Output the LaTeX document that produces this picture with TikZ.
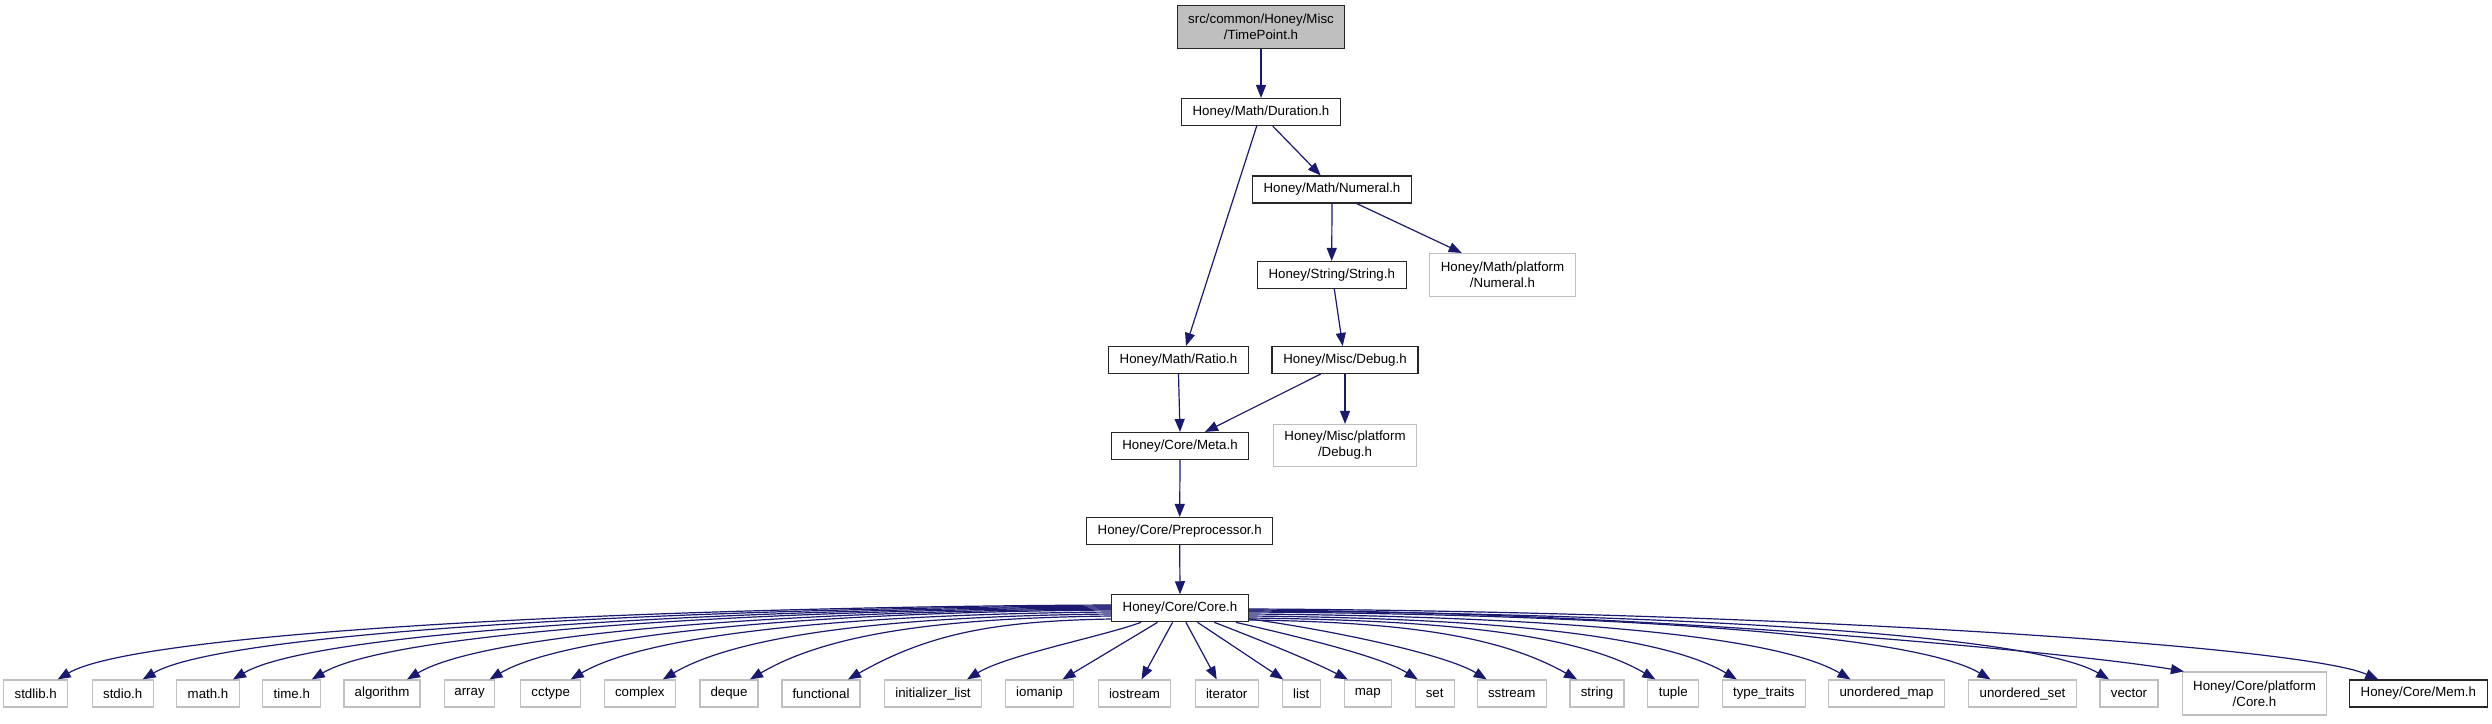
\documentclass[tikz,border=0pt]{standalone}
\usepackage{fontspec}
\setmainfont{Liberation Sans}
\usetikzlibrary{arrows.meta,calc}
\definecolor{edgec}{HTML}{191970}
\definecolor{grayb}{HTML}{BFBFBF}
\begin{document}
\begin{tikzpicture}[x=1pt,y=-1pt,
  font=\fontsize{13.3}{16}\selectfont,
  box/.style={draw=black!85, line width=1.1pt, inner sep=0pt, align=center, minimum height=27pt},
  ext/.style={draw=grayb, line width=1.2pt, inner sep=0pt, align=center, minimum height=27pt},
  edge/.style={draw=edgec, line width=1.2pt, -{Triangle[length=13pt,width=10pt]}}]
\useasboundingbox[fill=white] (0,0) rectangle (2492,723);

% upper nodes
\node[box, fill=grayb, minimum width=167pt, minimum height=43pt] (tp) at (1261,27) {src/common/Honey/Misc\\/TimePoint.h};
\node[box, minimum width=159pt] (dur) at (1261,112) {Honey/Math/Duration.h};
\node[box, minimum width=159pt] (num) at (1332,189.5) {Honey/Math/Numeral.h};
\node[box, minimum width=149pt] (str) at (1331.7,275) {Honey/String/String.h};
\node[ext, minimum width=146pt, minimum height=43pt] (mpn) at (1502.5,275) {Honey/Math/platform\\/Numeral.h};
\node[box, minimum width=140pt] (ratio) at (1178.5,360) {Honey/Math/Ratio.h};
\node[box, minimum width=146pt] (dbg) at (1345,360) {Honey/Misc/Debug.h};
\node[box, minimum width=137pt] (meta) at (1180,446) {Honey/Core/Meta.h};
\node[ext, minimum width=143pt, minimum height=42pt] (mpd) at (1345,445.5) {Honey/Misc/platform\\/Debug.h};
\node[box, minimum width=186pt] (pre) at (1179.7,531) {Honey/Core/Preprocessor.h};
\node[box, minimum width=137pt] (core) at (1180,608.3) {Honey/Core/Core.h};

% bottom row
\node[ext, minimum width=64pt] (stdlib) at (35.7,693.5) {stdlib.h};
\node[ext, minimum width=61pt] (stdio) at (122.7,693.5) {stdio.h};
\node[ext, minimum width=63pt] (math) at (208,693.5) {math.h};
\node[ext, minimum width=58pt] (time) at (291.8,693.5) {time.h};
\node[ext, minimum width=76pt] (algorithm) at (382,693.5) {algorithm};
\node[ext, minimum width=50pt] (array) at (469.5,693.5) {array};
\node[ext, minimum width=60pt] (cctype) at (550.7,693.5) {cctype};
\node[ext, minimum width=71pt] (complex) at (639.8,693.5) {complex};
\node[ext, minimum width=58pt] (deque) at (729,693.5) {deque};
\node[ext, minimum width=78pt] (functional) at (821,693.5) {functional};
\node[ext, minimum width=97pt] (initlist) at (933,693.5) {initializer\_list};
\node[ext, minimum width=68pt] (iomanip) at (1039.5,693.5) {iomanip};
\node[ext, minimum width=72pt] (iostream) at (1134.5,693.5) {iostream};
\node[ext, minimum width=63pt] (iterator) at (1226.7,693.5) {iterator};
\node[ext, minimum width=38pt] (list) at (1301.3,693.5) {list};
\node[ext, minimum width=47pt] (map) at (1367.8,693.5) {map};
\node[ext, minimum width=39pt] (set) at (1434.7,693.5) {set};
\node[ext, minimum width=69pt] (sstream) at (1511.7,693.5) {sstream};
\node[ext, minimum width=54pt] (string) at (1597,693.5) {string};
\node[ext, minimum width=51pt] (tuple) at (1673.3,693.5) {tuple};
\node[ext, minimum width=83pt] (typetraits) at (1763.8,693.5) {type\_traits};
\node[ext, minimum width=116pt] (umap) at (1886.5,693.5) {unordered\_map};
\node[ext, minimum width=108pt] (uset) at (2022.5,693.5) {unordered\_set};
\node[ext, minimum width=58pt] (vector) at (2129,693.5) {vector};
\node[ext, minimum width=144pt, minimum height=43pt] (pcore) at (2254.5,693.5) {Honey/Core/platform\\/Core.h};
\node[box, minimum width=138pt] (mem) at (2418.3,693.5) {Honey/Core/Mem.h};

% upper edges
\draw[edge] (tp.south) -- (dur.north);
\draw[edge] ([xshift=11.7pt]dur.south) -- ([xshift=-11.3pt]num.north);
\draw[edge] ([xshift=-4.3pt]dur.south) -- ([xshift=7.5pt]ratio.north);
\draw[edge] (num.south) -- (str.north);
\draw[edge] ([xshift=24.7pt]num.south) -- ([xshift=-40.8pt]mpn.north);
\draw[edge] ([xshift=2.6pt]str.south) -- ([xshift=-2.3pt]dbg.north);
\draw[edge] (ratio.south) -- (meta.north);
\draw[edge] ([xshift=-24.3pt]dbg.south) -- ([xshift=25pt]meta.north);
\draw[edge] (dbg.south) -- (mpd.north);
\draw[edge] (meta.south) -- (pre.north);
\draw[edge] (pre.south) -- (core.north);

% left fan
\draw[edge] ([yshift=3.3pt]core.west) .. controls (637.5,607) and (138,632) .. ([xshift=22pt]stdlib.north);
\draw[edge] ([yshift=2.3pt]core.west) .. controls (675.8,608) and (223,632) .. ([xshift=20pt]stdio.north);
\draw[edge] ([yshift=1.3pt]core.west) .. controls (716.3,609) and (313,632) .. ([xshift=25pt]math.north);
\draw[edge] ([yshift=0.3pt]core.west) .. controls (751.7,610) and (391.7,632) .. ([xshift=20pt]time.north);
\draw[edge] ([yshift=-0.7pt]core.west) .. controls (794.6,611) and (487,632) .. ([xshift=25pt]algorithm.north);
\draw[edge] ([yshift=-1.7pt]core.west) .. controls (831.9,612) and (570,632) .. ([xshift=20pt]array.north);
\draw[edge] ([yshift=-3.7pt]core.west) .. controls (868.2,614) and (650.7,632) .. ([xshift=20pt]cctype.north);
\draw[edge] ([yshift=-5.7pt]core.west) .. controls (909.8,616) and (743,632) .. ([xshift=23pt]complex.north);
\draw[edge] ([yshift=-7.7pt]core.west) .. controls (948.9,618) and (830,632) .. ([xshift=21pt]deque.north);
\draw[edge] ([yshift=-10.7pt]core.west) .. controls (993,621) and (928,634) .. ([xshift=27pt]functional.north);

% middle fan
\draw[edge] ([xshift=30pt]core.south west) .. controls (1101.7,636.7) and (1006.7,655) .. ([xshift=34pt]initlist.north);
\draw[edge] ([xshift=46.6pt]core.south west) -- ([xshift=23pt]iomanip.north);
\draw[edge] ([xshift=61.6pt]core.south west) -- ([xshift=7pt]iostream.north);
\draw[edge] ([xshift=75pt]core.south west) -- ([xshift=-10pt]iterator.north);
\draw[edge] ([xshift=86.6pt]core.south west) -- ([xshift=-18pt]list.north);
\draw[edge] ([xshift=103.3pt]core.south west) .. controls (1255,638) and (1310,660) .. ([xshift=-20pt]map.north);
\draw[edge] ([xshift=125pt]core.south west) .. controls (1295,636) and (1380,656) .. ([xshift=-17pt]set.north);
\draw[edge] ([yshift=3.5pt]core.south east) .. controls (1330,630) and (1445,654) .. ([xshift=-25pt]sstream.north);

% right fan
\draw[edge] ([yshift=-11.7pt]core.east) .. controls (1396.1,622) and (1496.7,634) .. ([xshift=-20pt]string.north);
\draw[edge] ([yshift=-9.7pt]core.east) .. controls (1431.3,620) and (1575,632) .. ([xshift=-18pt]tuple.north);
\draw[edge] ([yshift=-7.7pt]core.east) .. controls (1468.1,618) and (1656.7,632) .. ([xshift=-27pt]typetraits.north);
\draw[edge] ([yshift=-5.7pt]core.east) .. controls (1519.1,616) and (1770,632) .. ([xshift=-36pt]umap.north);
\draw[edge] ([yshift=-3.7pt]core.east) .. controls (1582.1,614) and (1910,632) .. ([xshift=-32pt]uset.north);
\draw[edge] ([yshift=-2.7pt]core.east) .. controls (1635.5,613) and (2028.7,632) .. ([xshift=-20pt]vector.north);
\draw[edge] ([yshift=-1.7pt]core.east) .. controls (1668.5,612) and (2090,655) .. ([xshift=2pt]pcore.north west);
\draw[edge] ([yshift=-0.7pt]core.east) .. controls (1757,611) and (2300,645) .. ([xshift=-40pt]mem.north);
\end{tikzpicture}
\end{document}
